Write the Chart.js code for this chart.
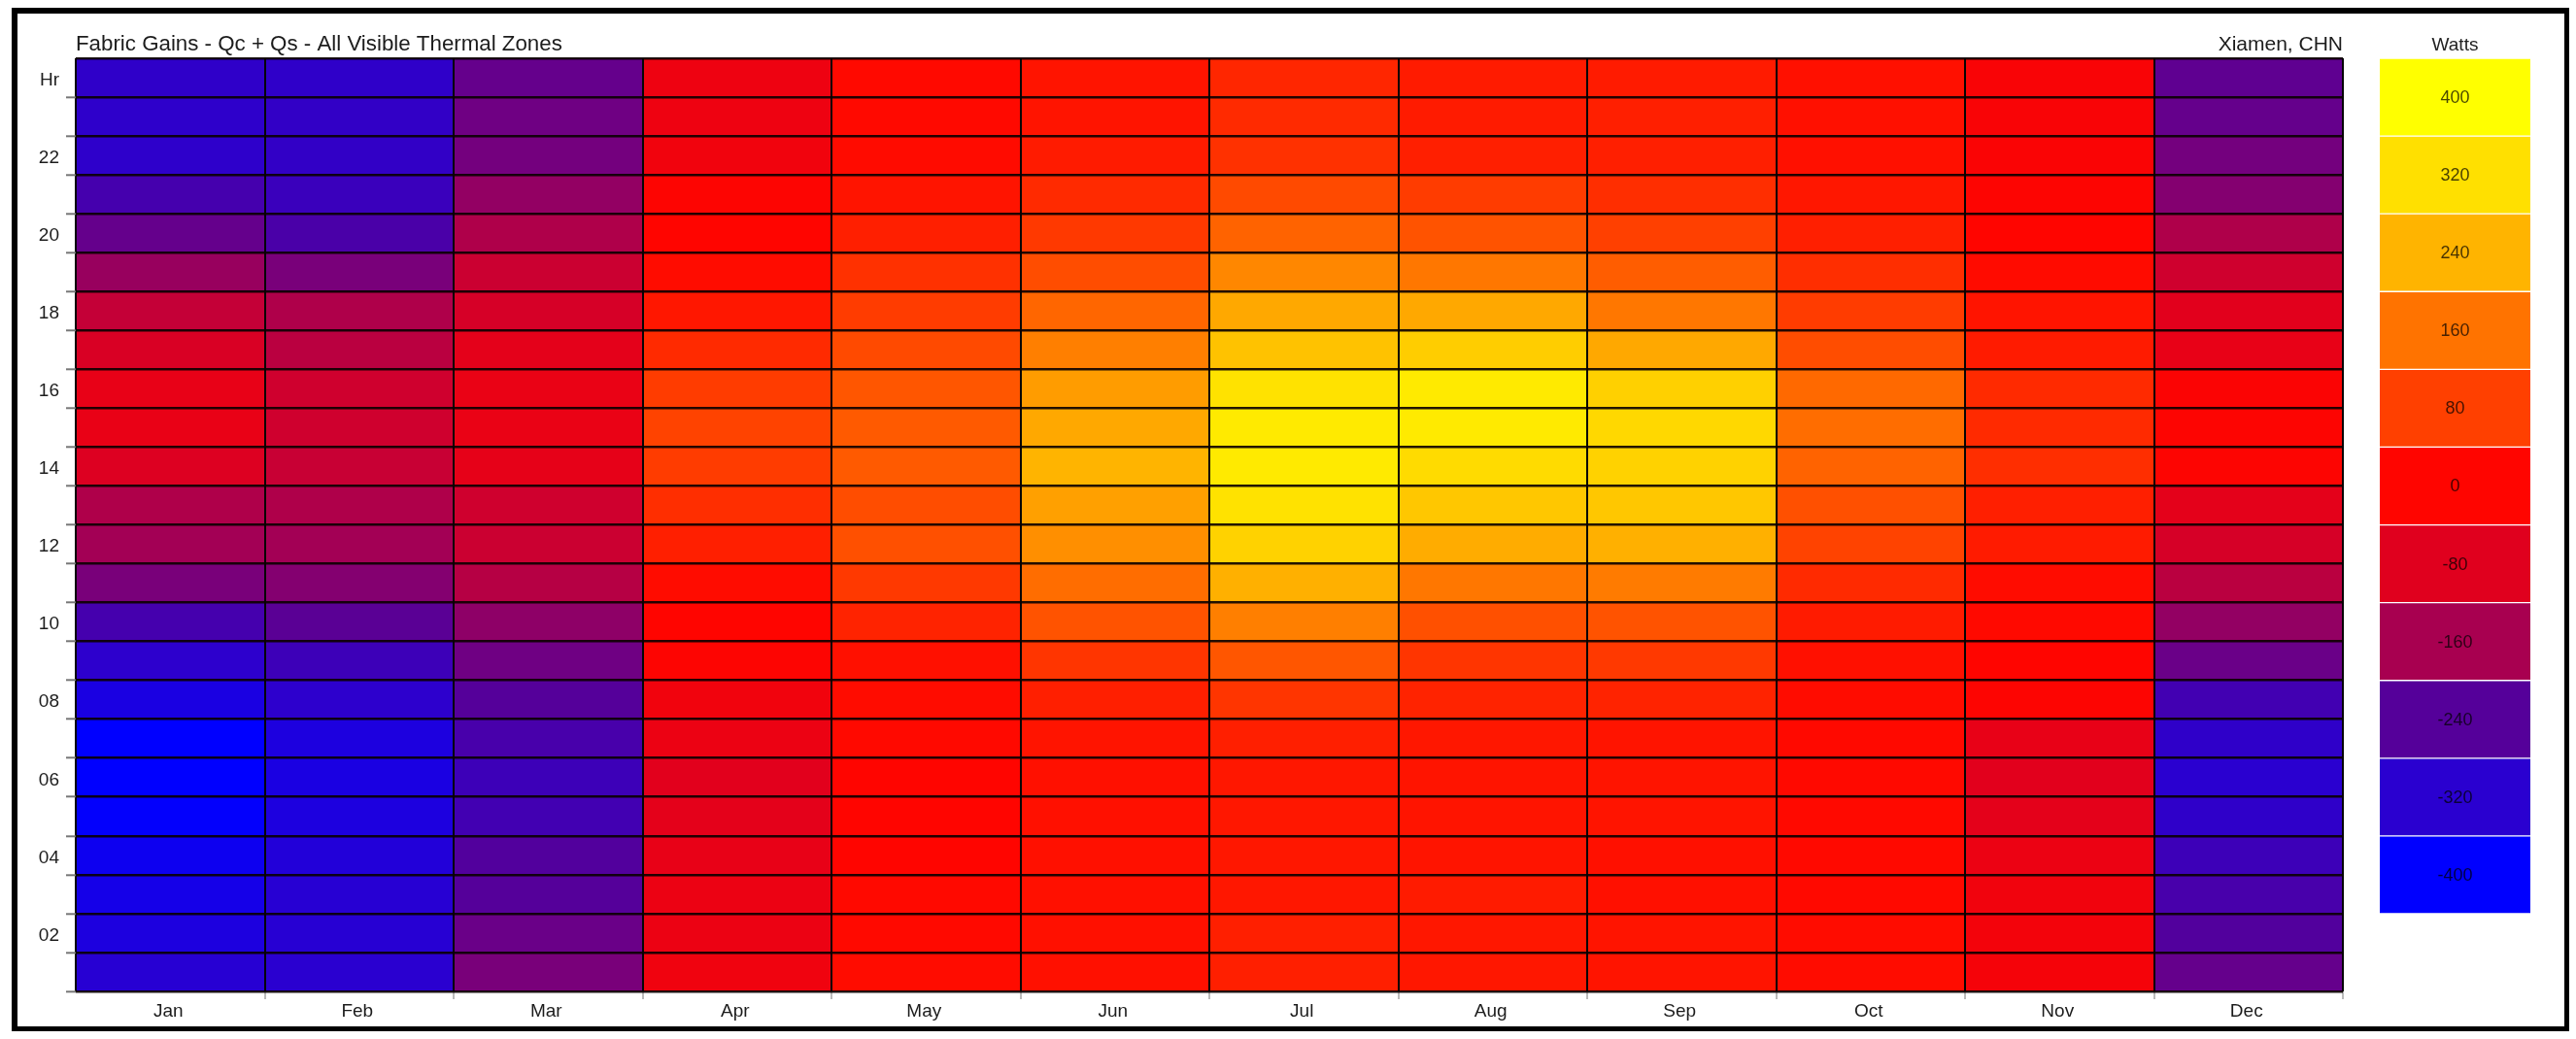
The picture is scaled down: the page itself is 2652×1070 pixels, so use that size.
<!DOCTYPE html>
<html lang="en">
<head>
    <meta charset="UTF-8">
    <title>Fabric Gains - Qc + Qs - All Visible Thermal Zones</title>
    <script src="https://cdn.jsdelivr.net/npm/chart.js"></script>
    <style>
        html, body { margin: 0; background: #fff; }
        #frame { position: absolute; left: 12px; top: 8px; width: 2622px; height: 1043px; border: 5px solid #000; border-width: 6px 5px 5px 6px; }
        canvas { position: absolute; filter: blur(0.5px); }
        #heatChart { left: 0; top: 0; }
        #scaleChart { left: 2450px; top: 30px; }
    </style>
</head>
<body>
    <div id="frame"></div>
    <canvas id="heatChart" width="2652" height="1070"></canvas>
    <canvas id="scaleChart" width="155" height="911"></canvas>

    <script>
        const months = ['Jan', 'Feb', 'Mar', 'Apr', 'May', 'Jun', 'Jul', 'Aug', 'Sep', 'Oct', 'Nov', 'Dec'];
        // top row is hour 24, bottom row is hour 1
        const hourLabels = ['Hr', '', '22', '', '20', '', '18', '', '16', '', '14', '', '12', '', '10', '', '08', '', '06', '', '04', '', '02', ''];

        // Watts, one value per hour from the top row down
        const jan = [-310, -312, -312, -270, -225, -175, -120, -90, -60, -58, -85, -150, -165, -205, -270, -315, -350, -400, -400, -395, -375, -360, -345, -325];
        const feb = [-310, -305, -305, -290, -260, -205, -150, -135, -105, -105, -115, -150, -165, -195, -235, -285, -315, -345, -350, -345, -335, -325, -325, -320];
        const mar = [-225, -215, -210, -180, -150, -110, -95, -70, -55, -55, -65, -105, -110, -140, -185, -215, -240, -265, -285, -275, -245, -240, -220, -205];
        const apr = [-45, -45, -35, -5, 0, 10, 25, 50, 75, 85, 75, 55, 35, 10, 0, -5, -35, -50, -75, -70, -60, -50, -50, -40];
        const may = [5, 5, 8, 20, 35, 60, 75, 95, 115, 120, 120, 100, 105, 70, 40, 15, 10, 5, 0, 0, 0, 5, 5, 10];
        const jun = [20, 20, 30, 50, 70, 100, 140, 175, 210, 225, 240, 215, 195, 150, 110, 65, 35, 20, 15, 15, 15, 15, 15, 15];
        const jul = [45, 50, 60, 95, 135, 185, 225, 265, 325, 345, 345, 325, 295, 235, 175, 115, 65, 35, 25, 25, 25, 25, 35, 35];
        const aug = [30, 30, 35, 75, 110, 165, 225, 285, 345, 345, 310, 275, 230, 165, 105, 65, 40, 25, 20, 20, 20, 30, 25, 25];
        const sep = [30, 35, 35, 55, 80, 125, 165, 225, 290, 305, 295, 275, 235, 170, 110, 70, 40, 20, 20, 20, 15, 15, 20, 20];
        const oct = [15, 15, 15, 25, 35, 55, 75, 100, 145, 150, 135, 105, 85, 50, 30, 15, 10, 5, 5, 5, 5, 5, 10, 10];
        const nov = [-15, -15, -12, -5, 0, 8, 20, 30, 50, 50, 55, 35, 30, 10, 5, 0, -5, -60, -75, -70, -50, -35, -30, -25];
        const dec = [-230, -225, -210, -195, -150, -105, -75, -60, -10, -5, -5, -70, -95, -135, -180, -220, -275, -310, -320, -310, -285, -265, -245, -225];
        const monthValues = [jan, feb, mar, apr, may, jun, jul, aug, sep, oct, nov, dec];

        const scaleValues = [400, 320, 240, 160, 80, 0, -80, -160, -240, -320, -400];
        const scaleColors = ['#ffff00', '#ffe000', '#ffb400', '#ff7300', '#ff4000', '#ff0500', '#e0001e', '#a80050', '#55009a', '#2a00d0', '#0000ff'];

        // blend between the two nearest colours of the legend
        function hexToRgb(hex) {
            return [1, 3, 5].map(p => parseInt(hex.substr(p, 2), 16));
        }
        function colorFor(v) {
            const pos = Math.max(0, Math.min(10, (400 - v) / 80));
            const i = Math.min(9, Math.floor(pos));
            const a = hexToRgb(scaleColors[i]);
            const b = hexToRgb(scaleColors[i + 1]);
            const t = pos - i;
            const c = a.map((n, k) => Math.round(n + (b[k] - n) * t));
            return `rgb(${c[0]}, ${c[1]}, ${c[2]})`;
        }

        // no tick marks at the two ends of an axis
        function innerTick(ctx, count) {
            return (ctx.index === 0 || ctx.index === count) ? 'rgba(0, 0, 0, 0)' : '#777';
        }

        const textFont = '"Liberation Sans", Arial, sans-serif';

        // header texts above the plot area
        const headerText = {
            id: 'headerText',
            afterDraw(chart) {
                const { ctx, chartArea } = chart;
                ctx.save();
                ctx.fillStyle = '#1c1c1c';
                ctx.textBaseline = 'middle';
                ctx.textAlign = 'left';
                ctx.font = `22.3px ${textFont}`;
                ctx.fillText('Fabric Gains - Qc + Qs - All Visible Thermal Zones', chartArea.left, 46);
                ctx.textAlign = 'right';
                ctx.font = `21px ${textFont}`;
                ctx.fillText('Xiamen, CHN', chartArea.right, 46);
                ctx.restore();
            }
        };

        new Chart(document.getElementById('heatChart'), {
            type: 'bar',
            data: {
                labels: months,
                datasets: hourLabels.map((h, i) => ({
                    label: 'Hour ' + (24 - i),
                    data: monthValues.map(() => [23 - i, 24 - i]),
                    backgroundColor: monthValues.map(m => colorFor(m[i])),
                    borderWidth: 0,
                    grouped: false,
                    barPercentage: 1,
                    categoryPercentage: 1
                }))
            },
            plugins: [headerText],
            options: {
                responsive: false,
                animation: false,
                events: [],
                layout: { padding: { top: 60, right: 240, left: 0, bottom: 0 } },
                plugins: { legend: { display: false }, tooltip: { enabled: false } },
                scales: {
                    x: {
                        offset: true,
                        afterFit(s) { s.height = 49; },
                        grid: { offset: true, z: 1, color: '#050505', lineWidth: 2, tickColor: ctx => innerTick(ctx, months.length), tickWidth: 1, tickLength: 8 },
                        border: { display: false },
                        ticks: { color: '#1c1c1c', font: { family: textFont, size: 19 }, maxRotation: 0, padding: 1, labelOffset: -2 }
                    },
                    y: { display: false, min: 0, max: 24 },
                    hours: {
                        type: 'category',
                        position: 'left',
                        labels: hourLabels,
                        offset: true,
                        afterFit(s) { s.width = 78; },
                        grid: { offset: true, z: 1, color: 'rgba(10, 0, 0, 0.9)', lineWidth: 2.6, tickColor: ctx => innerTick(ctx, hourLabels.length), tickWidth: 2, tickLength: 10 },
                        border: { display: false },
                        ticks: { color: '#1c1c1c', font: { family: textFont, size: 19 }, autoSkip: false, padding: 7, labelOffset: 2.5 }
                    }
                }
            }
        });

        // legend text sits in the middle of each block, title above
        const scaleText = {
            id: 'scaleText',
            afterDraw(chart) {
                const { ctx, chartArea } = chart;
                ctx.save();
                ctx.textAlign = 'center';
                ctx.textBaseline = 'middle';
                ctx.font = `19px ${textFont}`;
                ctx.fillStyle = '#222';
                ctx.fillText('Watts', (chartArea.left + chartArea.right) / 2, 17);
                ctx.font = `18px ${textFont}`;
                ctx.fillStyle = 'rgba(0, 0, 0, 0.72)';
                scaleValues.forEach((v, i) => {
                    const center = chart.getDatasetMeta(i).data[0].getCenterPoint();
                    ctx.fillText(String(v), center.x, center.y + 1);
                });
                ctx.restore();
            }
        };

        new Chart(document.getElementById('scaleChart'), {
            type: 'bar',
            data: {
                labels: ['Watts'],
                datasets: scaleValues.map((v, i) => ({
                    label: String(v),
                    data: [[v - 40, v + 40]],
                    backgroundColor: scaleColors[i],
                    borderColor: 'rgba(255, 255, 255, 0.75)',
                    borderWidth: { top: 1, bottom: 1, left: 0, right: 0 },
                    borderSkipped: false,
                    grouped: false,
                    barPercentage: 1,
                    categoryPercentage: 1
                }))
            },
            plugins: [scaleText],
            options: {
                responsive: false,
                animation: false,
                events: [],
                layout: { padding: { top: 30 } },
                plugins: { legend: { display: false }, tooltip: { enabled: false } },
                scales: {
                    x: { display: false },
                    y: { display: false, min: -440, max: 440 }
                }
            }
        });
    </script>
</body>
</html>
